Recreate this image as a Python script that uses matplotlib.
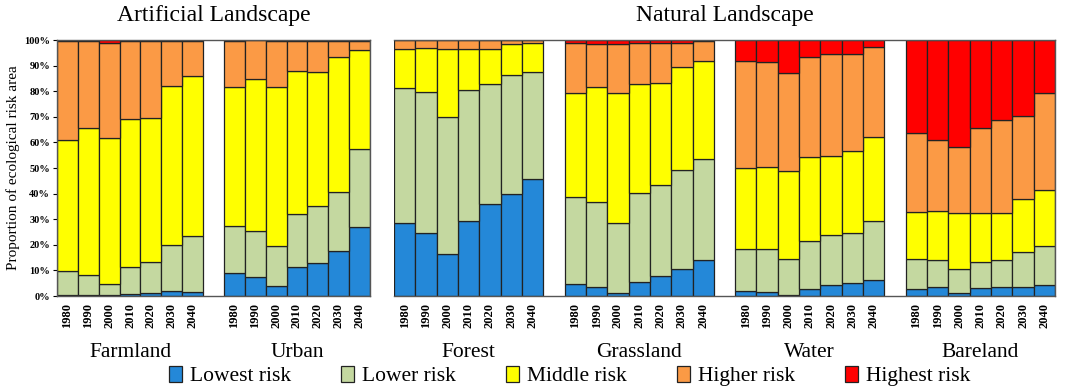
"""
Proportion of ecological risk area per landscape type, 1980-2040
"""
import matplotlib.pyplot as plt
from matplotlib.patches import Patch
import matplotlib.transforms as mtransforms

plt.rcParams['font.family'] = ['Liberation Serif', 'DejaVu Serif']

years = ["1980", "1990", "2000", "2010", "2020", "2030", "2040"]
levels = ["Lowest risk", "Lower risk", "Middle risk", "Higher risk", "Highest risk"]
colors = ["#2488d8", "#c4d8a0", "#ffff00", "#fb9a45", "#ff0000"]

# share of area (%) per risk level, one list per landscape
farmland_lowest = [0.5, 0.5, 0.5, 0.8, 1.0, 2.1, 1.6]
farmland_lower = [9.3, 7.8, 4.2, 10.4, 12.4, 17.8, 22.0]
farmland_middle = [51.3, 57.5, 56.9, 57.8, 56.0, 62.3, 62.3]
farmland_higher = [38.4, 33.8, 37.4, 30.6, 30.1, 17.4, 13.8]
farmland_highest = [0.5, 0.4, 1.0, 0.4, 0.5, 0.4, 0.3]

urban_lowest = [9.1, 7.6, 3.9, 11.5, 13.0, 17.7, 27.1]
urban_lower = [18.2, 17.9, 15.6, 20.5, 22.2, 23.1, 30.5]
urban_middle = [54.5, 59.4, 62.0, 55.8, 52.3, 52.7, 38.5]
urban_higher = [18.0, 15.0, 18.3, 12.0, 12.3, 6.3, 3.7]
urban_highest = [0.2, 0.1, 0.2, 0.2, 0.2, 0.2, 0.2]

forest_lowest = [28.6, 24.7, 16.4, 29.4, 35.9, 39.8, 45.8]
forest_lower = [52.8, 55.0, 53.7, 51.1, 46.9, 46.5, 41.7]
forest_middle = [15.0, 17.0, 26.3, 15.9, 13.7, 12.1, 11.2]
forest_higher = [3.6, 3.3, 3.6, 3.6, 3.5, 1.6, 1.3]
forest_highest = [0.0, 0.0, 0.0, 0.0, 0.0, 0.0, 0.0]

grassland_lowest = [4.7, 3.4, 1.3, 5.5, 7.8, 10.4, 14.1]
grassland_lower = [33.8, 33.4, 27.3, 34.9, 35.6, 38.8, 39.3]
grassland_middle = [40.7, 44.7, 50.6, 42.3, 39.7, 40.4, 38.4]
grassland_higher = [19.5, 16.9, 19.1, 16.0, 15.9, 9.4, 7.8]
grassland_highest = [1.3, 1.6, 1.7, 1.3, 1.0, 1.0, 0.4]

water_lowest = [2.1, 1.4, 0.4, 2.9, 4.2, 4.9, 6.3]
water_lower = [16.4, 16.8, 13.9, 18.5, 19.5, 19.8, 23.1]
water_middle = [31.6, 32.3, 34.5, 33.0, 31.1, 32.1, 32.6]
water_higher = [41.7, 40.8, 38.2, 39.1, 39.7, 37.7, 35.4]
water_highest = [8.2, 8.7, 13.0, 6.5, 5.5, 5.5, 2.6]

bareland_lowest = [2.6, 3.6, 1.3, 3.0, 3.5, 3.5, 4.2]
bareland_lower = [12.0, 10.5, 9.1, 10.2, 10.6, 13.7, 15.3]
bareland_middle = [18.2, 19.2, 21.9, 19.4, 18.5, 20.6, 21.9]
bareland_higher = [30.7, 27.6, 25.8, 33.2, 36.2, 32.5, 37.8]
bareland_highest = [36.5, 39.1, 41.9, 34.2, 31.2, 29.7, 20.8]

landscapes = {
    "Farmland": [farmland_lowest, farmland_lower, farmland_middle, farmland_higher, farmland_highest],
    "Urban": [urban_lowest, urban_lower, urban_middle, urban_higher, urban_highest],
    "Forest": [forest_lowest, forest_lower, forest_middle, forest_higher, forest_highest],
    "Grassland": [grassland_lowest, grassland_lower, grassland_middle, grassland_higher, grassland_highest],
    "Water": [water_lowest, water_lower, water_middle, water_higher, water_highest],
    "Bareland": [bareland_lowest, bareland_lower, bareland_middle, bareland_higher, bareland_highest],
}

fig = plt.figure(figsize=(10.65, 3.9), dpi=100)
ax1 = fig.add_axes([57 / 1065, 1 - 296 / 390, 313 / 1065, 256 / 390])
ax2 = fig.add_axes([394 / 1065, 1 - 296 / 390, 661 / 1065, 256 / 390])

panels = [(ax1, ["Farmland", "Urban"], "Artificial Landscape"),
          (ax2, ["Forest", "Grassland", "Water", "Bareland"], "Natural Landscape")]

for ax, names, title in panels:
    ticks, ticklabels = [], []
    for g, name in enumerate(names):
        xs = [g * 8 + i for i in range(len(years))]
        bottom = [0.0] * len(years)
        for series, c in zip(landscapes[name], colors):
            ax.bar(xs, series, bottom=bottom, width=1.0, color=c,
                   edgecolor="#222222", linewidth=0.9)
            bottom = [b + v for b, v in zip(bottom, series)]
        ticks += xs
        ticklabels += years
        trans = mtransforms.blended_transform_factory(ax.transData, ax.transAxes)
        ax.text(g * 8 + 3, -0.22, name, transform=trans, ha="center", va="center",
                fontsize=15.5)
    ax.set_xlim(-0.5, len(names) * 8 - 1.5)
    ax.set_ylim(0, 100)
    ax.set_xticks(ticks)
    ax.set_xticklabels(ticklabels, rotation=90, fontsize=9, fontweight="bold")
    ax.tick_params(axis="x", length=0, pad=5)
    ax.set_title(title, fontsize=17, pad=14)
    for sp in ax.spines.values():
        sp.set_color("#555555")
        sp.set_linewidth(1.0)

ax1.set_yticks(range(0, 101, 10))
ax1.set_yticklabels([f"{v}%" for v in range(0, 101, 10)], fontsize=7.5, fontweight="bold")
ax1.tick_params(axis="y", length=3, pad=2)
ax1.set_ylabel("Proportion of ecological risk area", fontsize=11, labelpad=3)
ax2.set_yticks([])
ax2.spines["left"].set_visible(False)

handles = [Patch(facecolor=c, edgecolor="#222222", linewidth=0.9) for c in colors]
fig.legend(handles, levels, loc="center", bbox_to_anchor=(0.535, 0.036), ncol=5,
           frameon=False, fontsize=15.5, handlelength=0.6, handleheight=0.75,
           handletextpad=0.4, columnspacing=2.3)

fig.savefig("out.png", dpi=100)
